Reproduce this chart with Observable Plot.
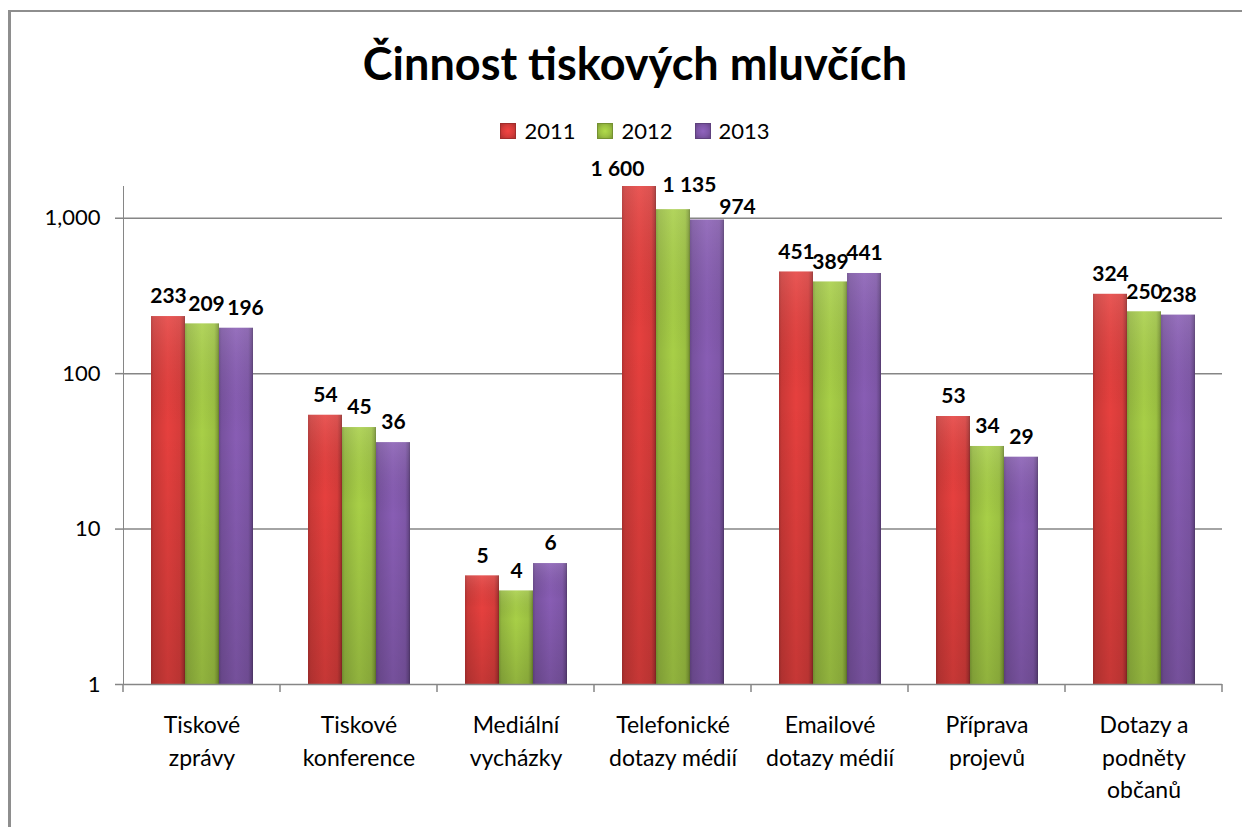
<!DOCTYPE html>
<html>
<head>
<meta charset="utf-8">
<script src="https://cdn.jsdelivr.net/npm/d3@7"></script>
<script src="https://cdn.jsdelivr.net/npm/@observablehq/plot@0.6"></script>
<style>
  html, body { margin: 0; padding: 0; background: #fff; width: 1242px; height: 827px; overflow: hidden; font-family: Lato, "Open Sans", sans-serif; }
  #frame { position: absolute; left: 8px; top: 10px; width: 1300px; height: 900px; border-left: 3px solid #8e8e8e; border-top: 2px solid #8e8e8e; }
  #title { position: absolute; left: 0; width: 1270px; top: 41px; text-align: center; font-weight: 700; font-size: 45px; line-height: 45px; color: #000; }
  #legend { position: absolute; left: 0; width: 1270px; top: 120px; display: flex; justify-content: center; font-size: 22px; line-height: 22px; color: #000; }
  #legend .item { display: flex; align-items: center; margin: 0 11px; }
  #legend .sw { width: 16px; height: 16px; margin-right: 8px; box-sizing: border-box; }
  #chart { position: absolute; left: 0; top: 150px; }
  #chart svg text { fill: #000; }
  #chart svg [aria-label="y-axis tick"], #chart svg [aria-label="y-axis tick"] path { stroke: #868686; stroke-width: 1.5px; }
</style>
</head>
<body>
<div id="frame"></div>
<div id="title">Činnost tiskových mluvčích</div>
<div id="legend"></div>
<div id="chart"></div>
<script>
// ---- data ----
const categories = ["Tiskové zprávy", "Tiskové konference", "Mediální vycházky", "Telefonické dotazy médií", "Emailové dotazy médií", "Příprava projevů", "Dotazy a podněty občanů"];
const categoryLabels = ["Tiskové\nzprávy", "Tiskové\nkonference", "Mediální\nvycházky", "Telefonické\ndotazy médií", "Emailové\ndotazy médií", "Příprava\nprojevů", "Dotazy a\npodněty\nobčanů"];
const years = ["2011", "2012", "2013"];
const values2011 = [233, 54, 5, 1600, 451, 53, 324];
const values2012 = [209, 45, 4, 1135, 389, 34, 250];
const values2013 = [196, 36, 6, 974, 441, 29, 238];
const yTicks = [1, 10, 100, 1000];
const gridValues = [10, 100, 1000];
const yearColors = ["#d63c3a", "#9cc142", "#7f57a8"];

const seriesValues = [values2011, values2012, values2013];
const rows = [];
categories.forEach((c, i) => years.forEach((y, j) => rows.push({category: c, year: y, value: seriesValues[j][i]})));

const fmtLabel = v => d3.format(",")(v).replace(/,/g, "\u00a0");

// label nudges (style: the reference moved a few crowded labels aside)
const labelNudge = {
  "Tiskové zprávy|2012": [4, 0],
  "Tiskové zprávy|2013": [9, 0],
  "Telefonické dotazy médií|2011": [-22, 3],
  "Telefonické dotazy médií|2012": [16, -4],
  "Telefonické dotazy médií|2013": [30, 7]
};

// ---- legend ----
const legend = document.getElementById("legend");
years.forEach((y, j) => {
  const c = d3.color(yearColors[j]);
  const item = document.createElement("div");
  item.className = "item";
  const sw = document.createElement("div");
  sw.className = "sw";
  sw.style.background = `radial-gradient(circle at 50% 50%, ${c.brighter(0.35)} 0%, ${c} 55%, ${c.darker(0.6)} 100%)`;
  sw.style.border = `1px solid ${c.darker(0.8)}`;
  const t = document.createElement("span");
  t.textContent = y;
  item.appendChild(sw); item.appendChild(t);
  legend.appendChild(item);
});

// ---- chart ----
const labelMarks = rows.map(r => {
  const [dx, dy] = labelNudge[`${r.category}|${r.year}`] || [0, 0];
  return Plot.text([r], {fx: "category", x: "year", y: "value", text: d => fmtLabel(d.value), dx, dy: -20 + dy, fontWeight: "bold", fontSize: 21});
});

const plot = Plot.plot({
  width: 1242,
  height: 677,
  marginLeft: 123,
  marginRight: 20,
  marginTop: 36,
  marginBottom: 143,
  style: {fontFamily: "Lato, 'Open Sans', sans-serif", fontSize: "22px", color: "#868686", background: "none", overflow: "visible"},
  fx: {domain: categories, paddingInner: 0, paddingOuter: 0, axis: null, label: null},
  x: {domain: years, paddingInner: 0, paddingOuter: 0.743, axis: null, label: null},
  y: {type: "log", domain: [1, 1600], ticks: yTicks, tickFormat: d3.format(","), tickSize: 8, tickPadding: 15, line: true, label: null},
  marks: [
    Plot.ruleY(gridValues, {stroke: "#868686", strokeWidth: 1.5}),
    ...years.map(y => Plot.barY(rows.filter(r => r.year === y), {fx: "category", x: "year", y1: 1, y2: "value", fill: `url(#grad${y})`})),
    Plot.barY(rows, {fx: "category", x: "year", y1: 1, y2: "value", fill: "url(#shade)"}),
    Plot.ruleY([1], {stroke: "#868686", strokeWidth: 1.5}),
    ...labelMarks,
    Plot.text(categories, {fx: d => d, text: d => categoryLabels[categories.indexOf(d)], frameAnchor: "bottom", lineAnchor: "top", dy: 26, fontSize: 23, lineHeight: 1.4})
  ]
});

// gradient definitions for the bevelled bar look
const svg = d3.select(plot.tagName.toLowerCase() === "svg" ? plot : plot.querySelector("svg"));
const defs = svg.insert("defs", ":first-child");
years.forEach((y, j) => {
  const c = d3.color(yearColors[j]);
  const g = defs.append("linearGradient").attr("id", `grad${y}`).attr("x1", 0).attr("x2", 1).attr("y1", 0).attr("y2", 0);
  [[0, c.darker(0.55)], [0.08, c.darker(0.15)], [0.5, c.brighter(0.2)], [0.86, c], [0.95, c.darker(0.5)], [1, c.darker(1.2)]]
    .forEach(([o, col]) => g.append("stop").attr("offset", o).attr("stop-color", col.formatHex()));
});
const sh = defs.append("linearGradient").attr("id", "shade").attr("x1", 0).attr("x2", 0).attr("y1", 0).attr("y2", 1);
sh.append("stop").attr("offset", 0).attr("stop-color", "#fff").attr("stop-opacity", 0.12);
sh.append("stop").attr("offset", 0.3).attr("stop-color", "#000").attr("stop-opacity", 0);
sh.append("stop").attr("offset", 1).attr("stop-color", "#000").attr("stop-opacity", 0.14);

// category separator ticks below the baseline, placed through the plot's own scales
const fxs = plot.scale("fx"), ys = plot.scale("y");
const edges = categories.map(c => fxs.apply(c)).concat([fxs.apply(categories[categories.length - 1]) + fxs.bandwidth]);
const y0 = ys.apply(1);
svg.append("g").attr("aria-label", "category separators")
  .selectAll("line").data(edges).join("line")
  .attr("x1", d => d).attr("x2", d => d)
  .attr("y1", y0).attr("y2", y0 + 8)
  .attr("stroke", "#868686").attr("stroke-width", 1.5);

document.getElementById("chart").appendChild(plot);
</script>
</body>
</html>
